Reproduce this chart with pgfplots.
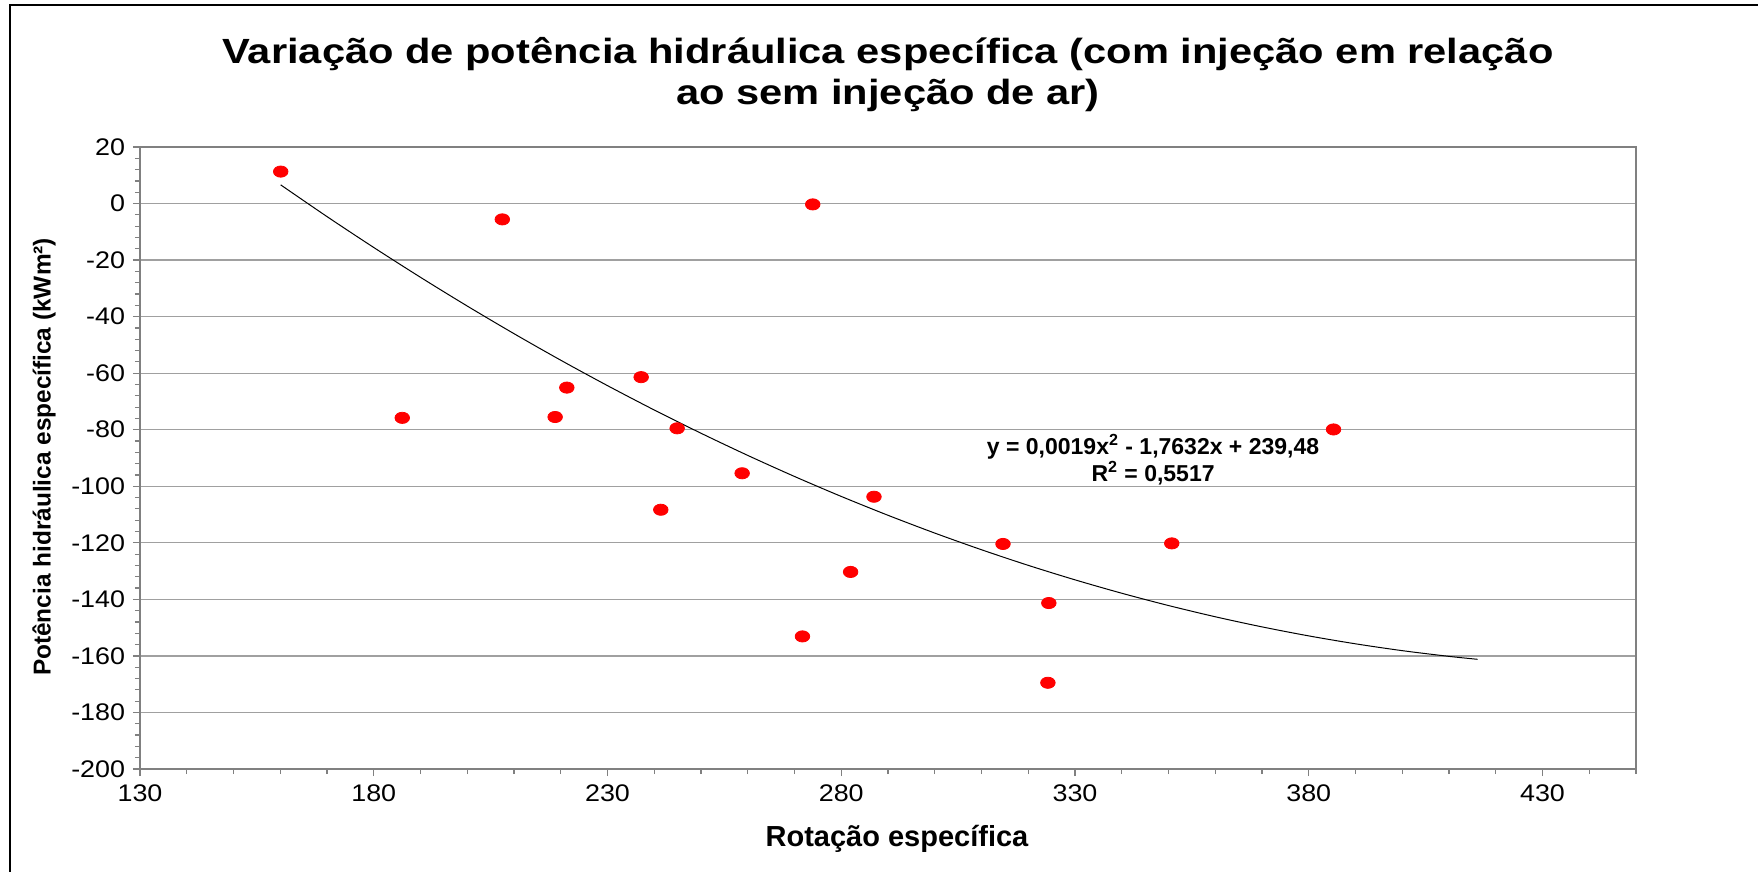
\documentclass[border=0pt]{standalone}
\usepackage{pgfplots}
\pgfplotsset{compat=1.18}
\usepackage{fontspec}
\setmainfont{Liberation Sans}
\definecolor{axgray}{RGB}{128,128,128}
\definecolor{gridgray}{RGB}{160,160,160}
\begin{document}
\begin{tikzpicture}
\useasboundingbox (0,0) rectangle (879pt,-436pt);
\draw[line width=1pt] (5pt,-436pt) -- (5pt,-2.5pt) -- (879pt,-2.5pt);
\begin{axis}[
  at={(70pt,-384.5pt)}, anchor=south west,
  scale only axis, width=748pt, height=311pt,
  xmin=130, xmax=450, ymin=-200, ymax=20,
  xtick={130,180,...,430}, ytick={-200,-180,...,20},
  minor xtick={130,140,...,450}, minor ytick={-200,-196,...,20},
  xtick pos=left, ytick pos=left,
  tick align=outside, major tick length=3.5pt, minor tick length=2.5pt,
  every tick/.style={axgray, line width=0.6pt},
  every minor tick/.style={axgray, line width=0.6pt},
  axis line style={axgray, line width=1pt},
  ymajorgrids, grid style={gridgray, line width=0.6pt},
  ticklabel style={font=\fontsize{12}{14}\selectfont, xscale=1.12},
  xticklabel style={yshift=-1pt},
  /pgf/number format/assume math mode=true,
  clip=false,
]
\addplot[black, line width=0.5pt, smooth, no marks] coordinates {
(160.1,6.6) (170,-4.61) (180,-15.54) (190,-26.09) (200,-36.25) (210,-46.02)
(220,-55.41) (230,-64.40) (240,-73.02) (250,-81.24) (260,-89.08) (270,-96.53)
(280,-103.59) (290,-110.26) (300,-116.55) (310,-122.45) (320,-127.97)
(330,-133.09) (340,-137.83) (350,-142.18) (360,-146.15) (370,-149.73)
(380,-152.92) (390,-155.72) (400,-158.14) (410,-160.16) (416.1,-161.2)
};
\addplot[only marks, mark=*, mark size=2.8pt, mark options={fill=red, draw=red, xscale=1.3}] coordinates {
(160.1,11.3) (207.5,-5.6) (273.9,-0.3) (186.1,-75.8) (218.8,-75.5) (221.3,-65.1)
(237.2,-61.4) (244.9,-79.5) (241.4,-108.3) (258.8,-95.4) (287.0,-103.7)
(282.0,-130.3) (271.7,-153.1) (314.6,-120.4) (324.4,-141.3) (324.2,-169.5)
(350.7,-120.2) (385.3,-79.9)
};
\node[font=\bfseries\fontsize{11.5}{13.5}\selectfont, align=center] at (axis cs:346.7,-90.5)
  {y = 0,0019x\textsuperscript{2} - 1,7632x + 239,48\\R\textsuperscript{2} = 0,5517};
\end{axis}
\node[font=\bfseries\fontsize{17.5}{20.5}\selectfont, align=center, xscale=1.19] at (444pt,-37.3pt)
  {Variação de potência hidráulica específica (com injeção em relação\\ao sem injeção de ar)};
\node[font=\bfseries\fontsize{12.2}{14}\selectfont, rotate=90] at (22pt,-228.5pt)
  {Potência hidráulica específica (kWm²)};
\node[font=\bfseries\fontsize{14.5}{16}\selectfont] at (448.5pt,-419.5pt)
  {Rotação específica};
\end{tikzpicture}
\end{document}
